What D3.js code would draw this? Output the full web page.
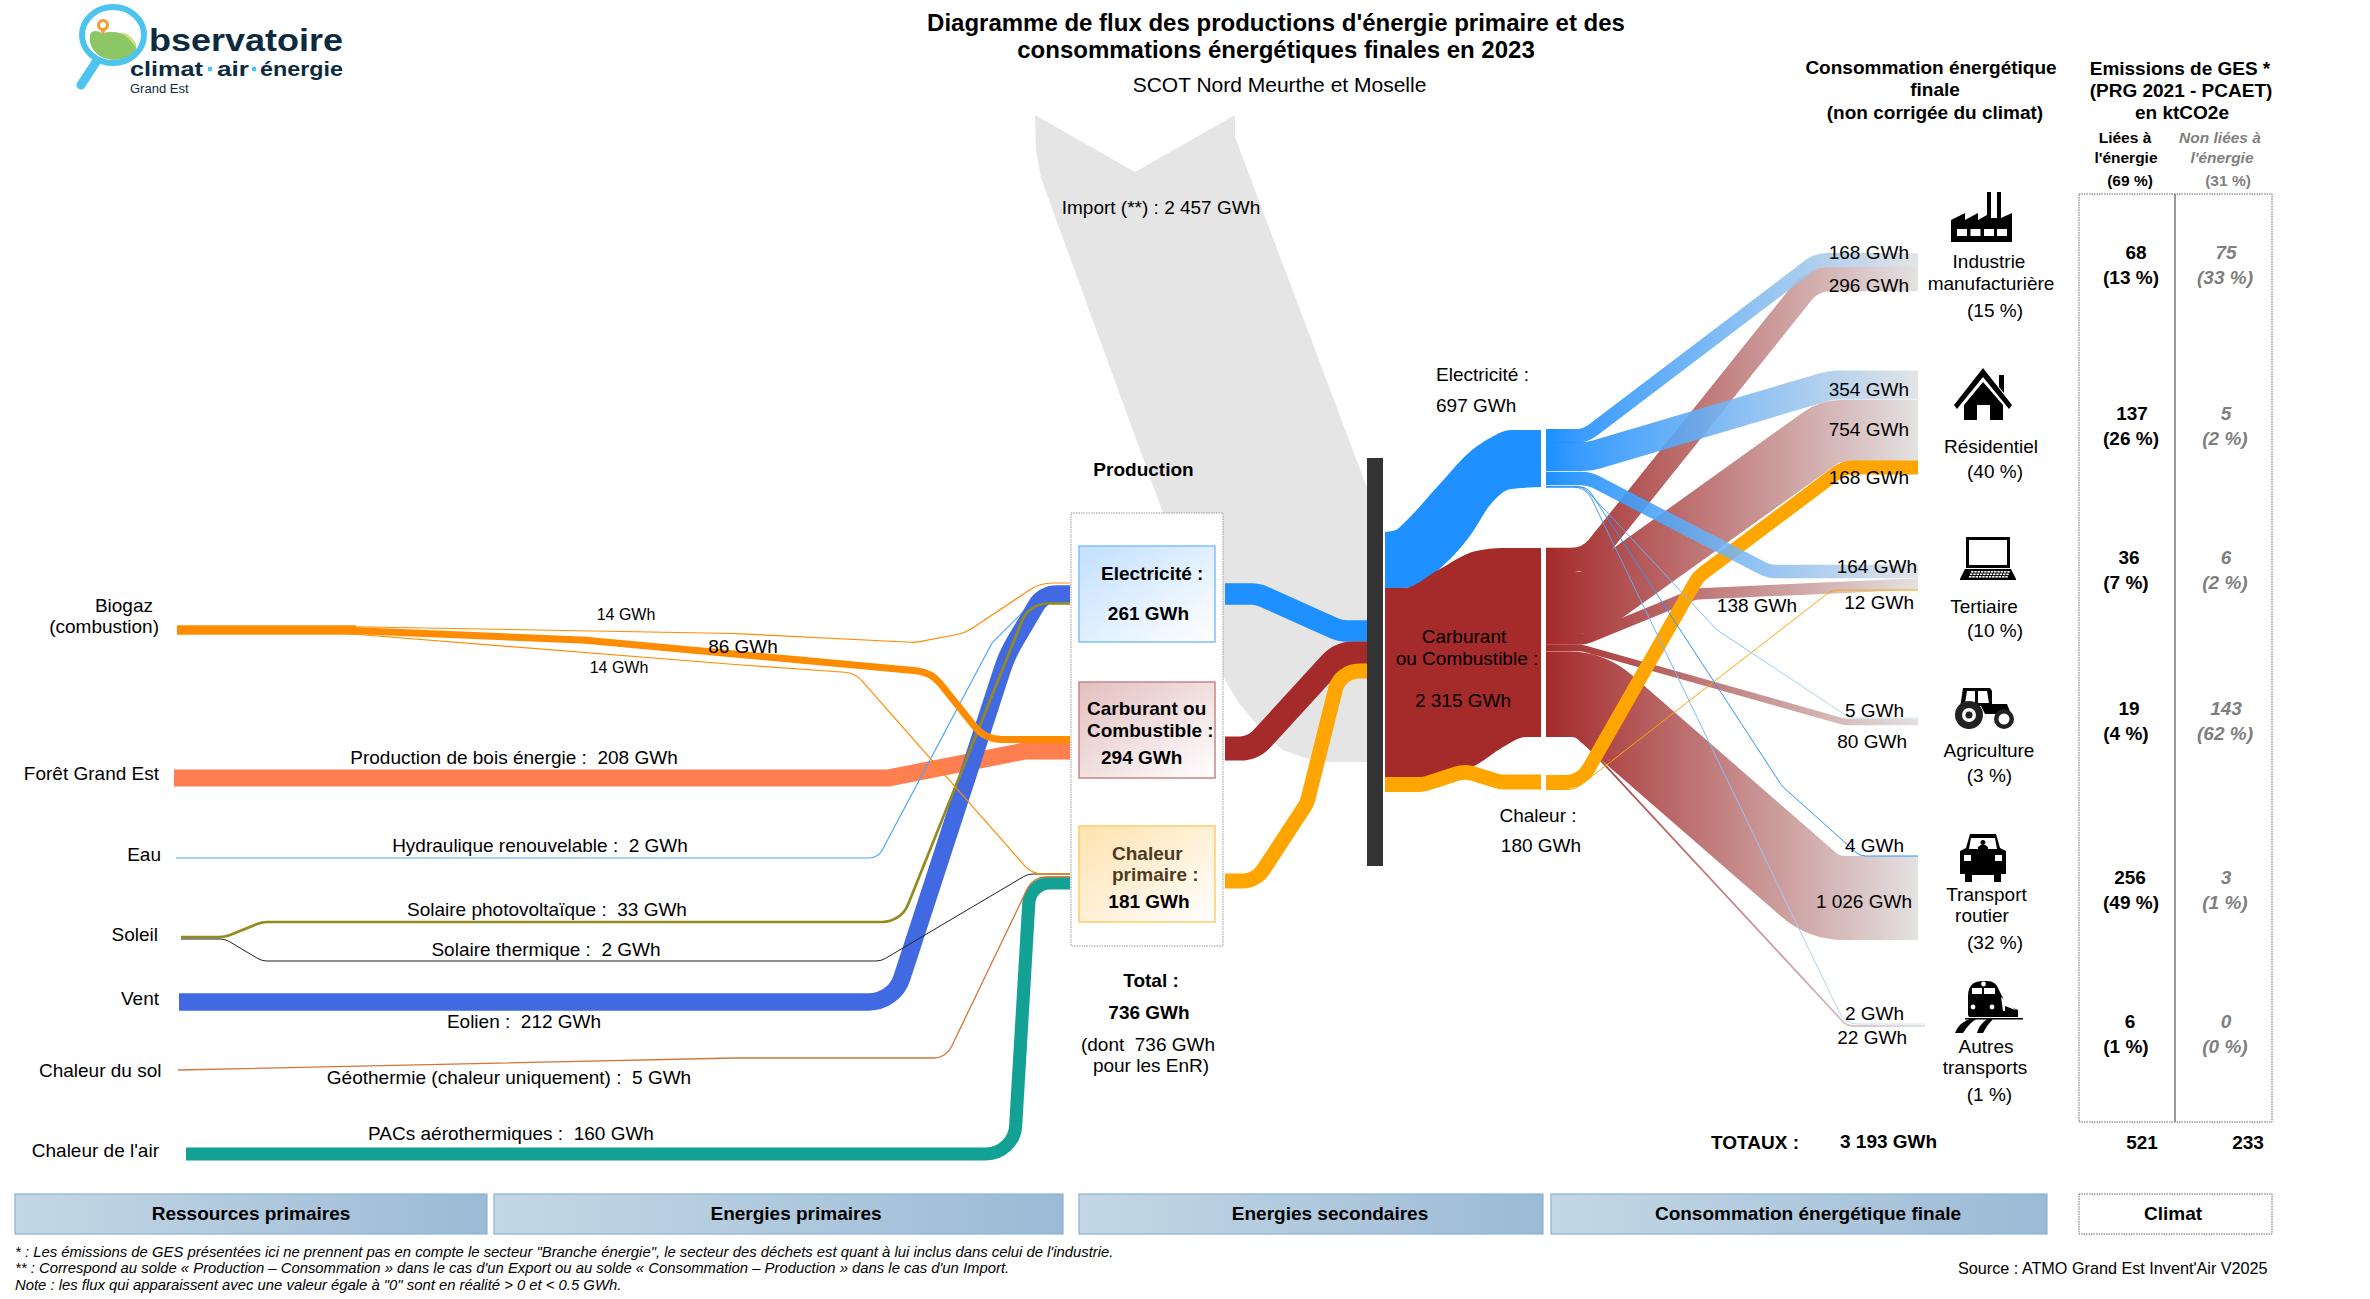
<!DOCTYPE html>
<html><head><meta charset="utf-8"><title>Flux énergie</title>
<script src="https://d3js.org/d3.v7.min.js"></script>
<style>html,body{margin:0;padding:0;background:#fff}svg{display:block}text{font-family:"Liberation Sans",Arial,sans-serif;fill:#000}</style>
</head><body><svg id="c" width="2370" height="1299" viewBox="0 0 2370 1299"></svg>
<script>
// ---------- DATA ----------
const primaryFlows = ["biogazElec","biogazFuel","biogazHeat","bois","eau","pv","thermique","eolien","geo","pacs"];
const primaryValues = [14,86,14,208,2,33,2,212,5,160];
const primaryNames = ["","","","Production de bois énergie","Hydraulique renouvelable","Solaire photovoltaïque","Solaire thermique","Eolien","Géothermie (chaleur uniquement)","PACs aérothermiques"];
const resources = ["Forêt Grand Est","Eau","Soleil","Vent","Chaleur du sol","Chaleur de l'air"];
const carriers = ["Electricité","Carburant ou Combustible","Chaleur"];
const productionValues = [261,294,181];
const carrierTotals = [697,2315,180];
const importValue = 2457;
const productionTotal = 736;
const sectors = ["Industrie manufacturière","Résidentiel","Tertiaire","Agriculture","Transport routier","Autres transports"];
const sectorShares = [15,40,10,3,32,1];
const elecBySector = [168,354,164,5,4,2];
const fuelBySector = [296,754,138,80,1026,22];
const heatBySector = [0,168,12,0,0,0];
const ghgEnergy = [68,137,36,19,256,6];
const ghgEnergyPct = [13,26,7,4,49,1];
const ghgOther = [75,5,6,143,3,0];
const ghgOtherPct = [33,2,2,62,1,0];
const totals = {conso:3193, ghgE:521, ghgO:233, shareE:69, shareO:31};

// ---------- SCALES & HELPERS ----------
const thick = d3.scaleLinear().domain([0,1000]).range([0,82]);
const w = v => Math.max(1, thick(v));
const fmt = v => d3.format(",")(v).replace(/,/g," ");
const svg = d3.select("#c");
const defs = svg.append("defs");
function grad(id,stops,x1,y1,x2,y2,units){
  const g=defs.append("linearGradient").attr("id",id).attr("gradientUnits",units||"userSpaceOnUse")
    .attr("x1",x1).attr("y1",y1).attr("x2",x2).attr("y2",y2);
  stops.forEach(s=>g.append("stop").attr("offset",s[0]).attr("stop-color",s[1]).attr("stop-opacity",s[2]==null?1:s[2]));
}
grad("gElec",[[0,"#1E90FF"],[.1,"#2A95FE",.92],[.5,"#78B6F2",.88],[1,"#E5E5E5",.95]],1546,0,1925,0);
grad("gFuel",[[0,"#A52A2A"],[1,"#E5E5E5"]],1546,0,1925,0);
grad("gPale",[[0,"#1E90FF"],[.3,"#6FB4F7"],[1,"#D8E6F4"]],1546,0,1925,0);
grad("gBoxE",[[0,"#C2E0FF"],[1,"#FFFFFF"]],0,0,1,1,"objectBoundingBox");
grad("gBoxF",[[0,"#E3BFBF"],[1,"#FFFFFF"]],0,0,1,1,"objectBoundingBox");
grad("gBoxH",[[0,"#FFE2AE"],[1,"#FFFFFF"]],0,0,1,1,"objectBoundingBox");
grad("gHead",[[0,"#C3D8E5"],[1,"#9CBAD6"]],0,0,1,0,"objectBoundingBox");

// rounded polyline through corners, drawn with d3.path; r is one radius or one per corner
function rounded(pts,r){
  const p=d3.path(); p.moveTo(pts[0][0],pts[0][1]);
  for(let i=1;i<pts.length-1;i++){
    const [a,b,c]=[pts[i-1],pts[i],pts[i+1]];
    const rad=Array.isArray(r)?r[i-1]:r;
    const l1=Math.hypot(b[0]-a[0],b[1]-a[1]), l2=Math.hypot(c[0]-b[0],c[1]-b[1]);
    const cos=((a[0]-b[0])*(c[0]-b[0])+(a[1]-b[1])*(c[1]-b[1]))/(l1*l2);
    const ang=Math.acos(Math.max(-1,Math.min(1,cos)));
    const maxT=Math.min(l1,l2)*0.5, t=Math.min(maxT,rad/Math.tan(ang/2));
    p.arcTo(b[0],b[1],c[0],c[1],t*Math.tan(ang/2));
  }
  const e=pts[pts.length-1]; p.lineTo(e[0],e[1]);
  return p.toString();
}
const gFlows=svg.append("g");
function ribbon(val,pts,r,color,op,minW){
  gFlows.append("path").attr("d",rounded(pts,r)).attr("fill","none")
   .attr("stroke",color).attr("stroke-width",minW||w(val)).attr("stroke-opacity",op==null?1:op);
}
function txt(x,y,s,o={}){
  return svg.append("text").attr("x",x).attr("y",y).text(s)
   .attr("text-anchor",o.a||"start").attr("font-size",o.s||19)
   .attr("font-weight",o.b?"bold":"normal").attr("font-style",o.i?"italic":"normal")
   .style("fill",o.f||"#000").attr("xml:space","preserve").style("white-space","pre");
}

// ---------- IMPORT ----------
const importShape=[[1035,115],[1135,172],[1235,115],[1235,137],[1366,485],[1375,505],[1375,762],[1366,762],[1327,762],[1305,758],[1283,750],[1268,737],[1253,720],[1238,702],[1225,680],[1163,513],[1041,178],[1036,150]];
gFlows.append("path").attr("d",d3.line().curve(d3.curveLinearClosed)(importShape)).attr("fill","#E5E5E5");

// ---------- PRIMARY FLOWS ----------
const idx=n=>primaryValues[primaryFlows.indexOf(n)];
ribbon(idx("bois"),[[174,778],[888,778],[1025,751],[1070,751]],10,"#FF7F50");
ribbon(idx("eau"),[[176,858],[878,858],[992,643],[1047,588],[1070,588]],15,"#4DA6FF",1,1.2);
ribbon(idx("eolien"),[[179,1002],[894,1002],[1007,655],[1043,594],[1070,594]],[35,140,30],"#4169E1");
ribbon(idx("pv"),[[181,937],[225,937],[262,922],[901,922],[1029,603.5],[1070,603.5]],28,"#968A1C");
ribbon(idx("pacs"),[[186,1154],[1014,1154],[1030,883],[1070,883]],30,"#13A195");
ribbon(idx("thermique"),[[181,939],[225,939],[262,961],[881,961],[1028,874],[1070,874]],18,"#222");
ribbon(idx("geo"),[[178,1070],[735,1058],[946,1058],[1033,877],[1070,877]],20,"#D2753A",1,1.3);
ribbon(idx("biogazElec"),[[340,626.5],[735,633.5],[915,642.5],[965,633],[1040,583],[1070,583]],40,"#FF8C00",1,1.2);
ribbon(idx("biogazHeat"),[[340,633],[735,664.5],[855,673],[1032,874],[1070,874]],25,"#FF8C00",1,1.2);
ribbon(idx("biogazFuel"),[[340,630],[582,640],[931,672],[985,739.5],[1070,739.5]],35,"#FF8C00");
ribbon(idx("biogazElec")+idx("biogazFuel")+idx("biogazHeat"),[[177,630],[356,630]],0,"#FF8C00");

// ---------- PRODUCTION TO HUB ----------
ribbon(productionValues[0],[[1225,594],[1258,594],[1340,631],[1378,631]],30,"#1E90FF");
ribbon(productionValues[1],[[1225,748.5],[1253,748.5],[1340,653.5],[1378,653.5]],30,"#A52A2A");
ribbon(productionValues[2],[[1225,881],[1256,881],[1307,803],[1340,671],[1378,671]],25,"#FFA500");

// ---------- HUB TO SECONDARY ----------
const band=d3.area().x(d=>d[0]).y0(d=>d[1]).y1(d=>d[2]).curve(d3.curveMonotoneX);
gFlows.append("path").attr("fill","#1E90FF").attr("d",band([[1385,532,588],[1396,530,588],[1404,523,588],[1438,486,570],[1472,450,533],[1490,438,505],[1511,430,489],[1541,430,487]]));
gFlows.append("path").attr("fill","#A52A2A").attr("d",band([[1385,588,777],[1404,588,777],[1438,570,777],[1476,551,765],[1503,548,747],[1526,548,737],[1541,548,737]]));
ribbon(carrierTotals[2],[[1385,784.5],[1423,784.5],[1465,771],[1500,782],[1541,782]],28,"#FFA500");

// ---------- SECONDARY TO SECTORS ----------
ribbon(fuelBySector[4],[[1546,693.5],[1589,693.5],[1824,898],[1918,898]],55,"url(#gFuel)");
ribbon(fuelBySector[1],[[1546,603],[1590,603],[1830,431],[1918,431]],35,"url(#gFuel)");
ribbon(fuelBySector[0],[[1546,560],[1588,560],[1813,279],[1918,279]],35,"url(#gFuel)");
ribbon(fuelBySector[2],[[1546,639],[1585,639],[1695,594],[1918,584]],22,"url(#gFuel)");
ribbon(fuelBySector[3],[[1546,648],[1582,648],[1845,722],[1918,722]],25,"url(#gFuel)");
ribbon(fuelBySector[5],[[1546,736],[1578,736],[1847,1026],[1925,1026]],15,"url(#gFuel)");
ribbon(heatBySector[1],[[1546,782],[1581,782],[1698,577],[1844,467.5],[1918,467.5]],28,"#FFA500");
ribbon(heatBySector[2],[[1546,789.5],[1575,789.5],[1832,590],[1918,590]],18,"#FFA500");
ribbon(elecBySector[5],[[1546,487],[1586,487],[1845,1024],[1925,1024]],20,"url(#gPale)");
ribbon(elecBySector[3],[[1546,486.5],[1583,486.5],[1717,630],[1850,718],[1918,718]],16,"url(#gPale)");
ribbon(elecBySector[4],[[1546,487],[1587,487],[1782,786],[1860,856],[1918,856]],14,"#2E96FA");
ribbon(elecBySector[2],[[1546,478.5],[1589,478.5],[1769,571.5],[1918,571.5]],30,"url(#gElec)");
ribbon(elecBySector[1],[[1546,456.5],[1590,456.5],[1831,385],[1918,385]],50,"url(#gElec)");
ribbon(elecBySector[0],[[1546,436],[1585,436],[1817,260],[1918,260]],30,"url(#gElec)");

// hub bar
svg.append("rect").attr("x",1367).attr("y",458).attr("width",16).attr("height",408).attr("fill","#333");

// ---------- BOXES ----------
svg.append("rect").attr("x",1071).attr("y",513).attr("width",152).attr("height",433).attr("fill","#fff").attr("stroke","#999").attr("stroke-dasharray","1.5 1");
[[546,"url(#gBoxE)","#80BFFF"],[682,"url(#gBoxF)","#C88585"],[826,"url(#gBoxH)","#FFCB6B"]].forEach(b=>{
 svg.append("rect").attr("x",1079).attr("y",b[0]).attr("width",136).attr("height",96).attr("fill",b[1]).attr("stroke",b[2]).attr("stroke-width",1.5);
});

// ---------- TITLE ----------
txt(1276,31,"Diagramme de flux des productions d'énergie primaire et des",{a:"middle",b:1,s:24});
txt(1276,58,"consommations énergétiques finales en 2023",{a:"middle",b:1,s:24});
txt(1279.5,92,"SCOT Nord Meurthe et Moselle",{a:"middle",s:21});

// ---------- LEFT LABELS ----------
txt(153,612,"Biogaz",{a:"end"}); txt(159,633,"(combustion)",{a:"end"});
const resEnds=[[159,780],[161,861],[158,941],[159,1005],[161.5,1077],[159,1157]];
resources.forEach((r,i)=>txt(resEnds[i][0],resEnds[i][1],r,{a:"end"}));
txt(626,620,fmt(primaryValues[0])+" GWh",{a:"middle",s:16});
txt(743,653,fmt(primaryValues[1])+" GWh",{a:"middle"});
txt(619,673,fmt(primaryValues[2])+" GWh",{a:"middle",s:16});
const flowLabelPos=[null,null,null,[514,764],[540,851.5],[547,916],[546,955.5],[524,1027.5],[509,1084],[511,1140]];
primaryNames.forEach((n,i)=>{ if(n) txt(flowLabelPos[i][0],flowLabelPos[i][1],n+" :  "+fmt(primaryValues[i])+" GWh",{a:"middle"}); });

// ---------- PRODUCTION LABELS ----------
txt(1143.5,476,"Production",{a:"middle",b:1});
txt(1161,214,"Import (**) : "+fmt(importValue)+" GWh",{a:"middle"});
txt(1101,580,"Electricité :",{b:1});
txt(1148.5,620,fmt(productionValues[0])+" GWh",{a:"middle",b:1});
txt(1087,715,"Carburant ou",{b:1}); txt(1087,737,"Combustible :",{b:1});
txt(1101,764,fmt(productionValues[1])+" GWh",{b:1});
txt(1112,860,"Chaleur",{b:1,f:"#4E3A1C"}); txt(1112,881,"primaire :",{b:1,f:"#4E3A1C"});
txt(1149,908,fmt(productionValues[2])+" GWh",{a:"middle",b:1});
txt(1151,987,"Total :",{a:"middle",b:1});
txt(1149,1019,fmt(productionTotal)+" GWh",{a:"middle",b:1});
txt(1148,1051,"(dont  "+fmt(productionTotal)+" GWh",{a:"middle"});
txt(1151,1072,"pour les EnR)",{a:"middle"});

// ---------- CARRIER LABELS ----------
txt(1436,381,"Electricité :"); txt(1436,412,fmt(carrierTotals[0])+" GWh");
txt(1464,643,"Carburant",{a:"middle"}); txt(1467,665,"ou Combustible :",{a:"middle"});
txt(1463,707,fmt(carrierTotals[1])+" GWh",{a:"middle"});
txt(1538,822,"Chaleur :",{a:"middle"}); txt(1541,852,fmt(carrierTotals[2])+" GWh",{a:"middle"});

// ---------- SECTOR FLOW LABELS ----------
const g=v=>fmt(v)+" GWh";
txt(1909,259,g(elecBySector[0]),{a:"end"}); txt(1909,292,g(fuelBySector[0]),{a:"end"});
txt(1909,396,g(elecBySector[1]),{a:"end"}); txt(1909,436,g(fuelBySector[1]),{a:"end"});
txt(1909,484,g(heatBySector[1]),{a:"end"}); txt(1917,573,g(elecBySector[2]),{a:"end"});
txt(1757,612,g(fuelBySector[2]),{a:"middle"}); txt(1914,609,g(heatBySector[2]),{a:"end"});
txt(1904,717,g(elecBySector[3]),{a:"end"}); txt(1907,748,g(fuelBySector[3]),{a:"end"});
txt(1904,852,g(elecBySector[4]),{a:"end"}); txt(1912,907.5,g(fuelBySector[4]),{a:"end"});
txt(1904,1019.5,g(elecBySector[5]),{a:"end"}); txt(1907,1044,g(fuelBySector[5]),{a:"end"});

// ---------- SECTORS ----------
const sectorLines=[[["Industrie",1989,268],["manufacturière",1991,290],[1995,317]],
 [["Résidentiel",1991,453],[1995,478]],[["Tertiaire",1984,612.5],[1995,637]],
 [["Agriculture",1989,757],[1989.5,781.5]],[["Transport",1986.5,901],["routier",1982,922],[1995,949]],
 [["Autres",1986,1052.5],["transports",1985,1074],[1989.5,1101]]];
sectorLines.forEach((ls,i)=>ls.forEach(l=>{
  if(l.length===3) txt(l[1],l[2],l[0],{a:"middle"});
  else txt(l[0],l[1],"("+sectorShares[i]+" %)",{a:"middle"});
}));

// ---------- HEADERS ----------
txt(1931,74,"Consommation énergétique",{a:"middle",b:1});
txt(1935,96,"finale",{a:"middle",b:1});
txt(1935,119,"(non corrigée du climat)",{a:"middle",b:1});
txt(2180,74.5,"Emissions de GES *",{a:"middle",b:1});
txt(2181,96.5,"(PRG 2021 - PCAET)",{a:"middle",b:1});
txt(2182,119,"en ktCO2e",{a:"middle",b:1});
txt(2125,143,"Liées à",{a:"middle",b:1,s:15.5}); txt(2126,162.5,"l'énergie",{a:"middle",b:1,s:15.5});
txt(2130,186,"("+totals.shareE+" %)",{a:"middle",b:1,s:15.5});
const grey="#7F7F7F";
txt(2220,143,"Non liées à",{a:"middle",b:1,i:1,s:15.5,f:grey}); txt(2222,162.5,"l'énergie",{a:"middle",b:1,i:1,s:15.5,f:grey});
txt(2228,186,"("+totals.shareO+" %)",{a:"middle",b:1,s:15.5,f:grey});

// ---------- GHG TABLE ----------
svg.append("rect").attr("x",2079).attr("y",194).attr("width",193).attr("height",928).attr("fill","none").attr("stroke","#666").attr("stroke-dasharray","1.5 1");
svg.append("line").attr("x1",2175).attr("x2",2175).attr("y1",194).attr("y2",1122).attr("stroke","#777").attr("stroke-width",1.5);
const ghgY=[[259,284],[419.5,445],[564,589],[715,740],[884,909],[1028,1053]];
const ghgX=[[2136,2131],[2132,2131],[2129,2126],[2129,2126],[2130,2131],[2130,2126]];
ghgEnergy.forEach((v,i)=>{
 txt(ghgX[i][0],ghgY[i][0],v,{a:"middle",b:1}); txt(ghgX[i][1],ghgY[i][1],"("+ghgEnergyPct[i]+" %)",{a:"middle",b:1});
 txt(2226,ghgY[i][0],ghgOther[i],{a:"middle",b:1,i:1,f:grey}); txt(2225,ghgY[i][1],"("+ghgOtherPct[i]+" %)",{a:"middle",b:1,i:1,f:grey});
});
txt(1711,1149,"TOTAUX :",{b:1}); txt(1840,1148,fmt(totals.conso)+" GWh",{b:1});
txt(2142,1149,totals.ghgE,{a:"middle",b:1}); txt(2248,1149,totals.ghgO,{a:"middle",b:1});

// ---------- BOTTOM STRIP ----------
[["Ressources primaires",15,487,251],["Energies primaires",494,1063,796],["Energies secondaires",1079,1543,1330],["Consommation énergétique finale",1551,2047,1808]].forEach(d=>{
 svg.append("rect").attr("x",d[1]).attr("y",1194).attr("width",d[2]-d[1]).attr("height",40).attr("fill","url(#gHead)").attr("stroke","#8DB3D3").attr("stroke-width",1.2);
 txt(d[3],1219.5,d[0],{a:"middle",b:1,s:19});
});
svg.append("rect").attr("x",2079).attr("y",1194).attr("width",193).attr("height",40).attr("fill","#fff").attr("stroke","#666").attr("stroke-dasharray","1.5 1");
txt(2173,1219.5,"Climat",{a:"middle",b:1,s:19});
txt(15,1256.5,"* : Les émissions de GES présentées ici ne prennent pas en compte le secteur \"Branche énergie\", le secteur des déchets est quant à lui inclus dans celui de l'industrie.",{i:1,s:14.85});
txt(15,1272.5,"** : Correspond au solde « Production – Consommation » dans le cas d'un Export ou au solde « Consommation – Production » dans le cas d'un Import.",{i:1,s:14.85});
txt(15,1289.5,"Note : les flux qui apparaissent avec une valeur égale à \"0\" sont en réalité > 0 et < 0.5 GWh.",{i:1,s:14.85});
txt(1958,1274,"Source : ATMO Grand Est Invent'Air V2025",{s:16.2});

// ---------- ICONS ----------
function icon(x,y,paint){const q=svg.append("g").attr("transform",`translate(${x},${y})`);paint(q);}
const P=(q,d,f)=>q.append("path").attr("d",d).attr("fill",f||"#000");
icon(1950,191,q=>{ // factory
 P(q,"M1 51V29L15 22V29L28 22V29L37 24V1H41V27H47V1H51V27L62 22V51Z");
 [7,20.5,34,47].forEach(a=>P(q,`M${a} 38h10v7h-10z`,"#fff"));
});
icon(1954,368,q=>{ // house
 P(q,"M29 0L58 37L55 41L29 9L3 41L0 37Z");P(q,"M45 7h5v18l-5-6z");
 P(q,"M10 37L29 14L49 37V52H36V37H23V52H10Z");
});
icon(1960,537,q=>{ // laptop
 P(q,"M6 0H50V31H6ZM9 3V28H47V3Z");
 P(q,"M5 32H51L56 42V43H0V42Z");
 for(let r=0;r<3;r++)for(let c=0;c<12;c++)P(q,`M${9+c*3.3+(2-r)} ${34+r*2.5}h2.4v1.6h-2.4z`,"#fff");
});
icon(1945,680,q=>{ // tractor
 P(q,"M18 8H45L47 11V24H62L66 34H40L36 26H20L15 28Z");
 P(q,"M22 11H30V23H20ZM33 11H42L44 23H33Z","#fff");
 [[24,35,14,7,3.5],[59,39,10,5.5,0]].forEach(c=>{
  q.append("circle").attr("cx",c[0]).attr("cy",c[1]).attr("r",c[2]).attr("fill","#222");
  q.append("circle").attr("cx",c[0]).attr("cy",c[1]).attr("r",c[3]).attr("fill","#fff");
  if(c[4]) q.append("circle").attr("cx",c[0]).attr("cy",c[1]).attr("r",c[4]).attr("fill","#222");
 });
});
icon(1960,834,q=>{ // car
 P(q,"M10 0H36L40 14L46 17V40H41V48H34V41H12V48H5V40H0V17L6 14Z");
 P(q,"M11 4H35L37 15H9Z","#fff");P(q,"M23 6a2.5 2.5 0 1 1 -.1 0ZM18 15V13Q23 8 28 13V15Z");
 P(q,"M4 21H11V27H4ZM35 21H42V27H35Z","#fff");
});
icon(1945,970,q=>{ // train
 P(q,"M23 45V26Q23 11 38 11H42Q51 11 54 20L59 30Q63 36 73 40V47H24Z");
 P(q,"M27 18H37V24H27ZM39 18H50V24H39Z","#fff");
 P(q,"M56 27L72 41H58Z","#fff");P(q,"M60 36L73 41V43H60Z");
 [[28,37],[47,37],[38.5,14]].forEach(c=>q.append("circle").attr("cx",c[0]).attr("cy",c[1]).attr("r",2.4).attr("fill","#fff"));
 P(q,"M10 63Q14 52 27 48H33Q24 53 18 63ZM32 63Q34 55 42 49H48Q42 55 38 63Z");
 P(q,"M20 48H78V49.5H20Z");
});

// ---------- LOGO ----------
const navy="#0D2B40", ring="#4CC4EF";
svg.append("line").attr("x1",96).attr("y1",62).attr("x2",81).attr("y2",85).attr("stroke",ring).attr("stroke-width",9).attr("stroke-linecap","round");
svg.append("path").attr("d","M90 35Q92 28 103 33Q116 30 128 36Q138 42 136 50Q130 60 113 60Q94 58 90 42Z").attr("fill","#8CC665");
svg.append("path").attr("d","M120 32Q134 34 136 48Q130 38 120 32Z").attr("fill","#CFE27F");
svg.append("ellipse").attr("cx",113).attr("cy",35).attr("rx",31).attr("ry",28).attr("fill","none").attr("stroke",ring).attr("stroke-width",6);
svg.append("circle").attr("cx",103).attr("cy",25).attr("r",4.5).attr("fill","none").attr("stroke","#F39C2D").attr("stroke-width",3);
svg.append("path").attr("d","M100 29L103 35L106 29Z").attr("fill","#F39C2D");
txt(149,51,"bservatoire",{b:1,s:32,f:navy}).attr("textLength",194).attr("lengthAdjust","spacingAndGlyphs");
[["climat",130,73],["air",217,32],["énergie",260,83]].forEach(d=>txt(d[1],76,d[0],{b:1,s:20,f:navy}).attr("textLength",d[2]).attr("lengthAdjust","spacingAndGlyphs"));
[210,254].forEach(x=>svg.append("circle").attr("cx",x).attr("cy",69).attr("r",2.4).attr("fill",ring));
txt(130,92.5,"Grand Est",{s:13,f:navy});
</script></body></html>
